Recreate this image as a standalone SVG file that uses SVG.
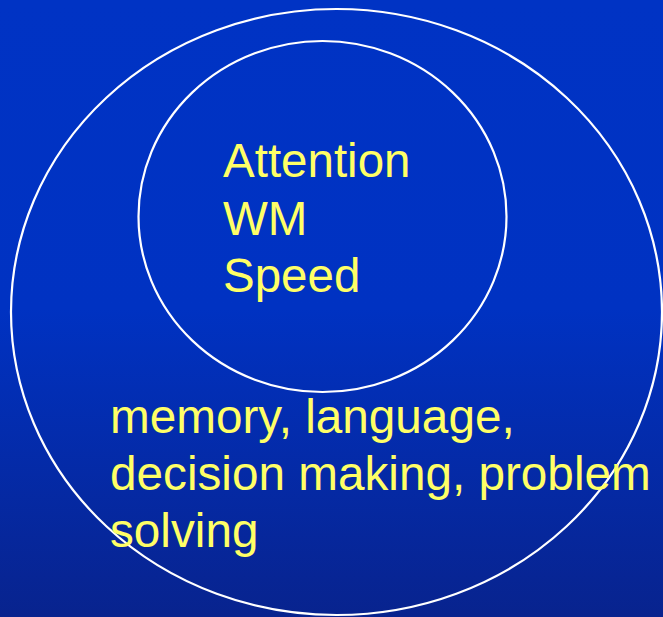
<svg xmlns="http://www.w3.org/2000/svg" width="663" height="617" viewBox="0 0 663 617">
  <defs>
    <linearGradient id="bg" x1="0" y1="0" x2="0" y2="1">
      <stop offset="0" stop-color="#0033C4"/>
      <stop offset="0.5" stop-color="#0032C2"/>
      <stop offset="1" stop-color="#08238E"/>
    </linearGradient>
  </defs>
  <style>
    .ring { fill: none; stroke: #FFFFFF; stroke-width: 2.2; }
    .lbl { font-family: "Liberation Sans", Arial, sans-serif; font-size: 47.5px; fill: #FFFF66; }
    .big { font-size: 47.7px; }
  </style>
  <rect x="0" y="0" width="663" height="617" fill="url(#bg)"/>
  <g id="outer">
    <ellipse class="ring" cx="336.5" cy="312" rx="325.5" ry="303"/>
    <text class="lbl big" x="110" y="433">memory, language,</text>
    <text class="lbl big" x="110" y="490">decision making, problem</text>
    <text class="lbl big" x="110" y="547">solving</text>
  </g>
  <g id="inner">
    <ellipse class="ring" cx="322.5" cy="216.5" rx="184" ry="175.5"/>
    <text class="lbl" x="223" y="177">Attention</text>
    <text class="lbl" x="223" y="235">WM</text>
    <text class="lbl" x="223" y="292">Speed</text>
  </g>
  <g id="connectors"/>
</svg>
